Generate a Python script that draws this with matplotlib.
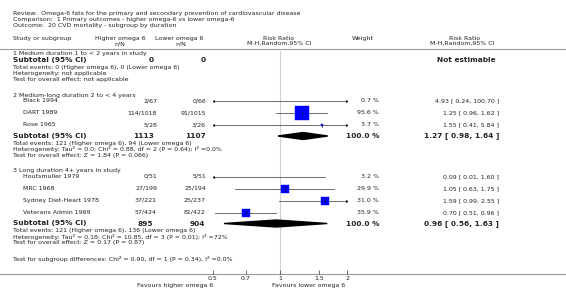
import numpy as np
import matplotlib.pyplot as plt
from matplotlib.patches import Polygon

# header text
title_lines = ["Review:  Omega-6 fats for the primary and secondary prevention of cardiovascular disease",
               "Comparison:  1 Primary outcomes - higher omega-6 vs lower omega-6",
               "Outcome:  20 CVD mortality - subgroup by duration"]

group_names = ["1 Medium duration 1 to < 2 years in study",
               "2 Medium-long duration 2 to < 4 years",
               "3 Long duration 4+ years in study"]

# per study data
studies = [[],
           ["Black 1994", "DART 1989", "Rose 1965"],
           ["Houtsmuller 1979", "MRC 1968", "Sydney Diet-Heart 1978", "Veterans Admin 1969"]]
higher_nN = [[], ["2/67", "114/1018", "5/28"], ["0/51", "27/199", "37/221", "57/424"]]
lower_nN = [[], ["0/66", "91/1015", "3/26"], ["5/51", "25/194", "25/237", "81/422"]]
weights = [[], [0.7, 95.6, 3.7], [3.2, 29.9, 31.0, 35.9]]
rr = [[], [4.93, 1.25, 1.55], [0.09, 1.05, 1.59, 0.70]]
rr_lo = [[], [0.24, 0.96, 0.41], [0.01, 0.63, 0.99, 0.51]]
rr_hi = [[], [100.70, 1.62, 5.84], [1.60, 1.75, 2.55, 0.96]]

# subtotals
sub_higher = ["0", "1113", "895"]
sub_lower = ["0", "1107", "904"]
sub_rr = [None, 1.27, 0.96]
sub_lo = [None, 0.98, 0.56]
sub_hi = [None, 1.64, 1.63]
total_events = ["Total events: 0 (Higher omega 6), 0 (Lower omega 6)",
                "Total events: 121 (Higher omega 6), 94 (Lower omega 6)",
                "Total events: 121 (Higher omega 6), 136 (Lower omega 6)"]
heterogeneity = ["Heterogeneity: not applicable",
                 "Heterogeneity: Tau\u00b2 = 0.0; Chi\u00b2 = 0.88, df = 2 (P = 0.64); I\u00b2 =0.0%",
                 "Heterogeneity: Tau\u00b2 = 0.18; Chi\u00b2 = 10.85, df = 3 (P = 0.01); I\u00b2 =72%"]
overall = ["Test for overall effect: not applicable",
           "Test for overall effect: Z = 1.84 (P = 0.066)",
           "Test for overall effect: Z = 0.17 (P = 0.87)"]
subgroup_test = "Test for subgroup differences: Chi\u00b2 = 0.90, df = 1 (P = 0.34), I\u00b2 =0.0%"

xticks = [0.5, 0.7, 1, 1.5, 2]
xlim = (0.5, 2)

W, H = 566, 297
fig = plt.figure(figsize=(W / 100, H / 100), dpi=100)
ax = fig.add_axes([0, 0, 1, 1])
ax.set_xlim(0, W)
ax.set_ylim(H, 0)
ax.axis('off')

fs = 4.5
fsb = 5.3
tc = '#222222'
grey = '#999999'

def txt(x, y, s, ha='left', bold=False, size=None):
    ax.text(x, y, s, ha=ha, va='center', fontsize=size or (fsb if bold else fs),
            fontweight='bold' if bold else 'normal', color=tc)

for i, line in enumerate(title_lines):
    txt(13, 13 + i * 6, line)

txt(13, 38.5, "Study or subgroup")
txt(120, 38.5, "Higher omega 6", ha='center')
txt(120, 43.5, "n/N", ha='center')
txt(179, 38.5, "Lower omega 6", ha='center')
txt(181, 43.5, "n/N", ha='center')
txt(279, 38.5, "Risk Ratio", ha='center')
txt(279, 43.5, "M-H,Random,95% CI", ha='center')
txt(363, 38.5, "Weight", ha='center')
txt(465, 38.5, "Risk Ratio", ha='center')
txt(462, 43.5, "M-H,Random,95% CI", ha='center')

ax.axhline(49, color=grey, lw=0.8)
ax.axhline(274, color=grey, lw=0.8)

# forest panel
x0, x1, ytop, ybot = 213, 347, 49, 274
fa = fig.add_axes([x0 / W, (H - ybot) / H, (x1 - x0) / W, (ybot - ytop) / H])
fa.patch.set_alpha(0)
fa.set_xscale('log')
fa.set_xlim(*xlim)
fa.set_ylim(ybot, ytop)
for s in fa.spines.values():
    s.set_visible(False)
fa.set_yticks([])
fa.set_xticks(xticks)
fa.set_xticklabels([f"{t:g}" for t in xticks])
fa.xaxis.set_minor_locator(plt.NullLocator())
fa.tick_params(axis='x', direction='in', length=3, width=0.5, color='#333333',
               labelsize=fs, labelcolor=tc, pad=1.5)
fa.axvline(1, color='#d0d0d0', lw=0.8, zorder=0)

line_c = '#555555'

def ci_line(y, lo, hi, est, w):
    l = max(lo, xlim[0])
    h = min(hi, xlim[1])
    fa.plot([l, h], [y, y], color=line_c, lw=0.6, zorder=2)
    if lo < xlim[0]:
        fa.plot([xlim[0]], [y], marker='<', ms=2.2, mew=0, color='#111111', zorder=3)
    if hi > xlim[1]:
        fa.plot([xlim[1]], [y], marker='>', ms=2.2, mew=0, color='#111111', zorder=3)
    if xlim[0] <= est <= xlim[1]:
        side = 1.38 * np.sqrt(w) * 0.72
        fa.plot([est], [y], marker='s', ms=side, mfc='#0000ff', mec='#0000ff', mew=0.3, zorder=3)
        fa.plot([est, est], [y - 1.5, y + 1.5], color='#111111', lw=0.5, zorder=4)

def diamond(y, est, lo, hi):
    pts = [(lo, y), (est, y - 3.5), (hi, y), (est, y + 3.5)]
    fa.add_patch(Polygon(pts, closed=True, color='black', zorder=3))

group_y = [54, 95, 170.5]
row_gap = 12
for g in range(3):
    y = group_y[g]
    txt(13, y, group_names[g])
    y += 6
    for k, name in enumerate(studies[g]):
        txt(23, y, name)
        txt(157, y, higher_nN[g][k], ha='right')
        txt(206, y, lower_nN[g][k], ha='right')
        txt(379, y, f"{weights[g][k]:.1f} %", ha='right')
        txt(499, y, f"{rr[g][k]:.2f} [ {rr_lo[g][k]:.2f}, {rr_hi[g][k]:.2f} ]", ha='right')
        ci_line(y, rr_lo[g][k], rr_hi[g][k], rr[g][k], weights[g][k])
        y += row_gap
    if studies[g]:
        y -= 1
    txt(13, y, "Subtotal (95% CI)", bold=True)
    txt(153.5, y, sub_higher[g], ha='right', bold=True)
    txt(205.5, y, sub_lower[g], ha='right', bold=True)
    if sub_rr[g] is None:
        txt(466, y, "Not estimable", ha='center', bold=True)
    else:
        txt(379, y, "100.0 %", ha='right', bold=True)
        txt(499, y, f"{sub_rr[g]:.2f} [ {sub_lo[g]:.2f}, {sub_hi[g]:.2f} ]", ha='right', bold=True)
        diamond(y, sub_rr[g], sub_lo[g], sub_hi[g])
    y += 7
    txt(13, y, total_events[g])
    txt(13, y + 6, heterogeneity[g])
    txt(13, y + 12, overall[g])

txt(13, 258.5, subgroup_test)
txt(213, 285.5, "Favours higher omega 6", ha='right')
txt(272, 285.5, "Favours lower omega 6", ha='left')

fig.savefig('out.png', dpi=100)
